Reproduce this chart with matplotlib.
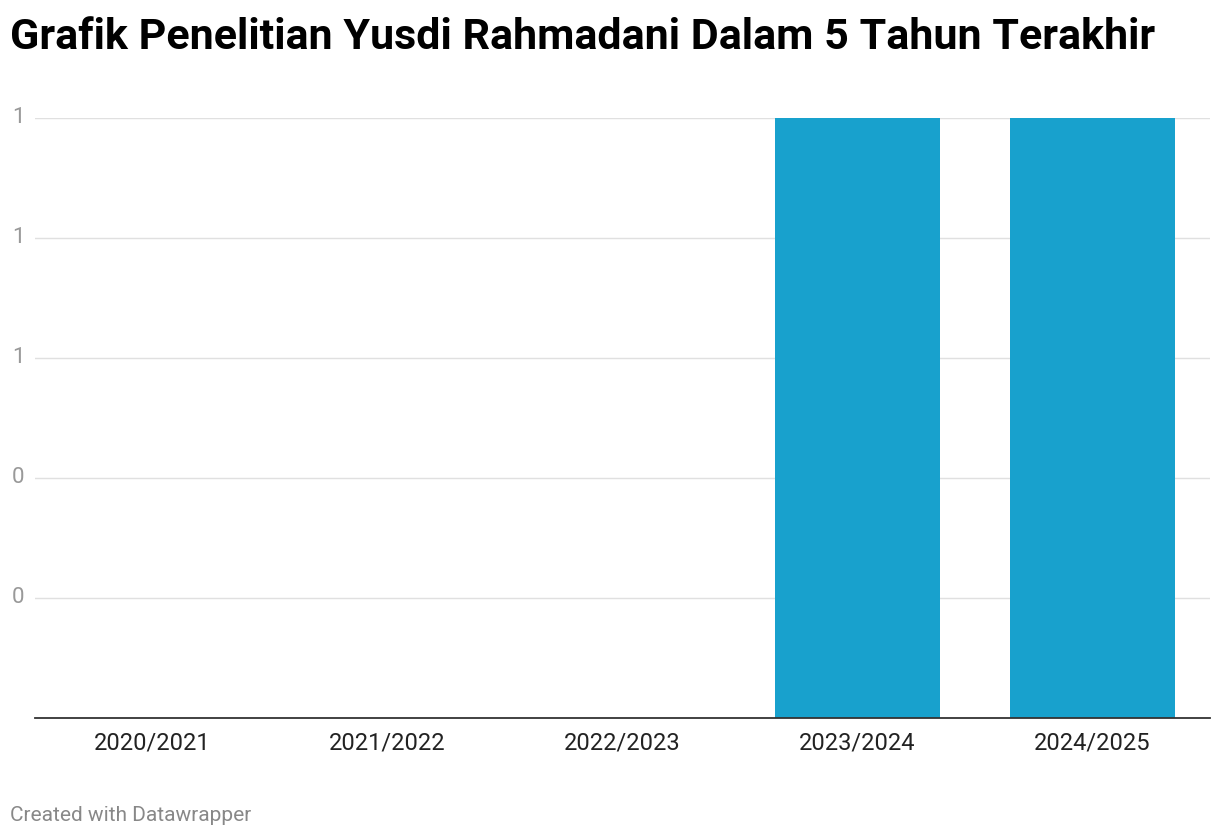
import matplotlib
matplotlib.use("Agg")
import matplotlib.pyplot as plt

categories = ["2020/2021", "2021/2022", "2022/2023", "2023/2024", "2024/2025"]
values = [0, 0, 0, 1, 1]
yticks = [0.2, 0.4, 0.6, 0.8, 1.0]
ytick_labels = ["0", "0", "1", "1", "1"]

plt.rcParams['font.family'] = ['Roboto', 'DejaVu Sans']
fig = plt.figure(figsize=(12.2, 8.38), dpi=100)
ax = fig.add_axes([0.0287, 0.1432, 0.9631, 0.716])
ax.bar(range(len(categories)), values, width=0.7, color="#18a1cd", zorder=3)
ax.set_xlim(-0.5, len(categories) - 0.5)
ax.set_ylim(0, 1)
ax.set_yticks(yticks)
ax.set_yticklabels([])
for y, lab in zip(yticks, ytick_labels):
    ax.text(-0.0196, y, lab, transform=ax.get_yaxis_transform(), ha="left",
            va="center", fontsize=16, color="#999999")
ax.set_xticks(range(len(categories)))
ax.set_xticklabels(categories, fontsize=17, color="#222222")
ax.tick_params(axis='both', length=0)
ax.tick_params(axis='x', pad=10)
ax.grid(axis='y', color="#e0e0e0", linewidth=1, zorder=0)
for s in ["top", "right", "left"]:
    ax.spines[s].set_visible(False)
ax.spines["bottom"].set_color("#333333")
ax.spines["bottom"].set_linewidth(1.3)
ax.spines["bottom"].set_zorder(4)
fig.text(0.008, 0.955, "Grafik Penelitian Yusdi Rahmadani Dalam 5 Tahun Terakhir",
         fontsize=31, fontweight="bold", va="center", ha="left", color="#000000")
fig.text(0.008, 0.027, "Created with Datawrapper", fontsize=15, color="#888888",
         va="center", ha="left")
fig.savefig("out.png", dpi=100)
